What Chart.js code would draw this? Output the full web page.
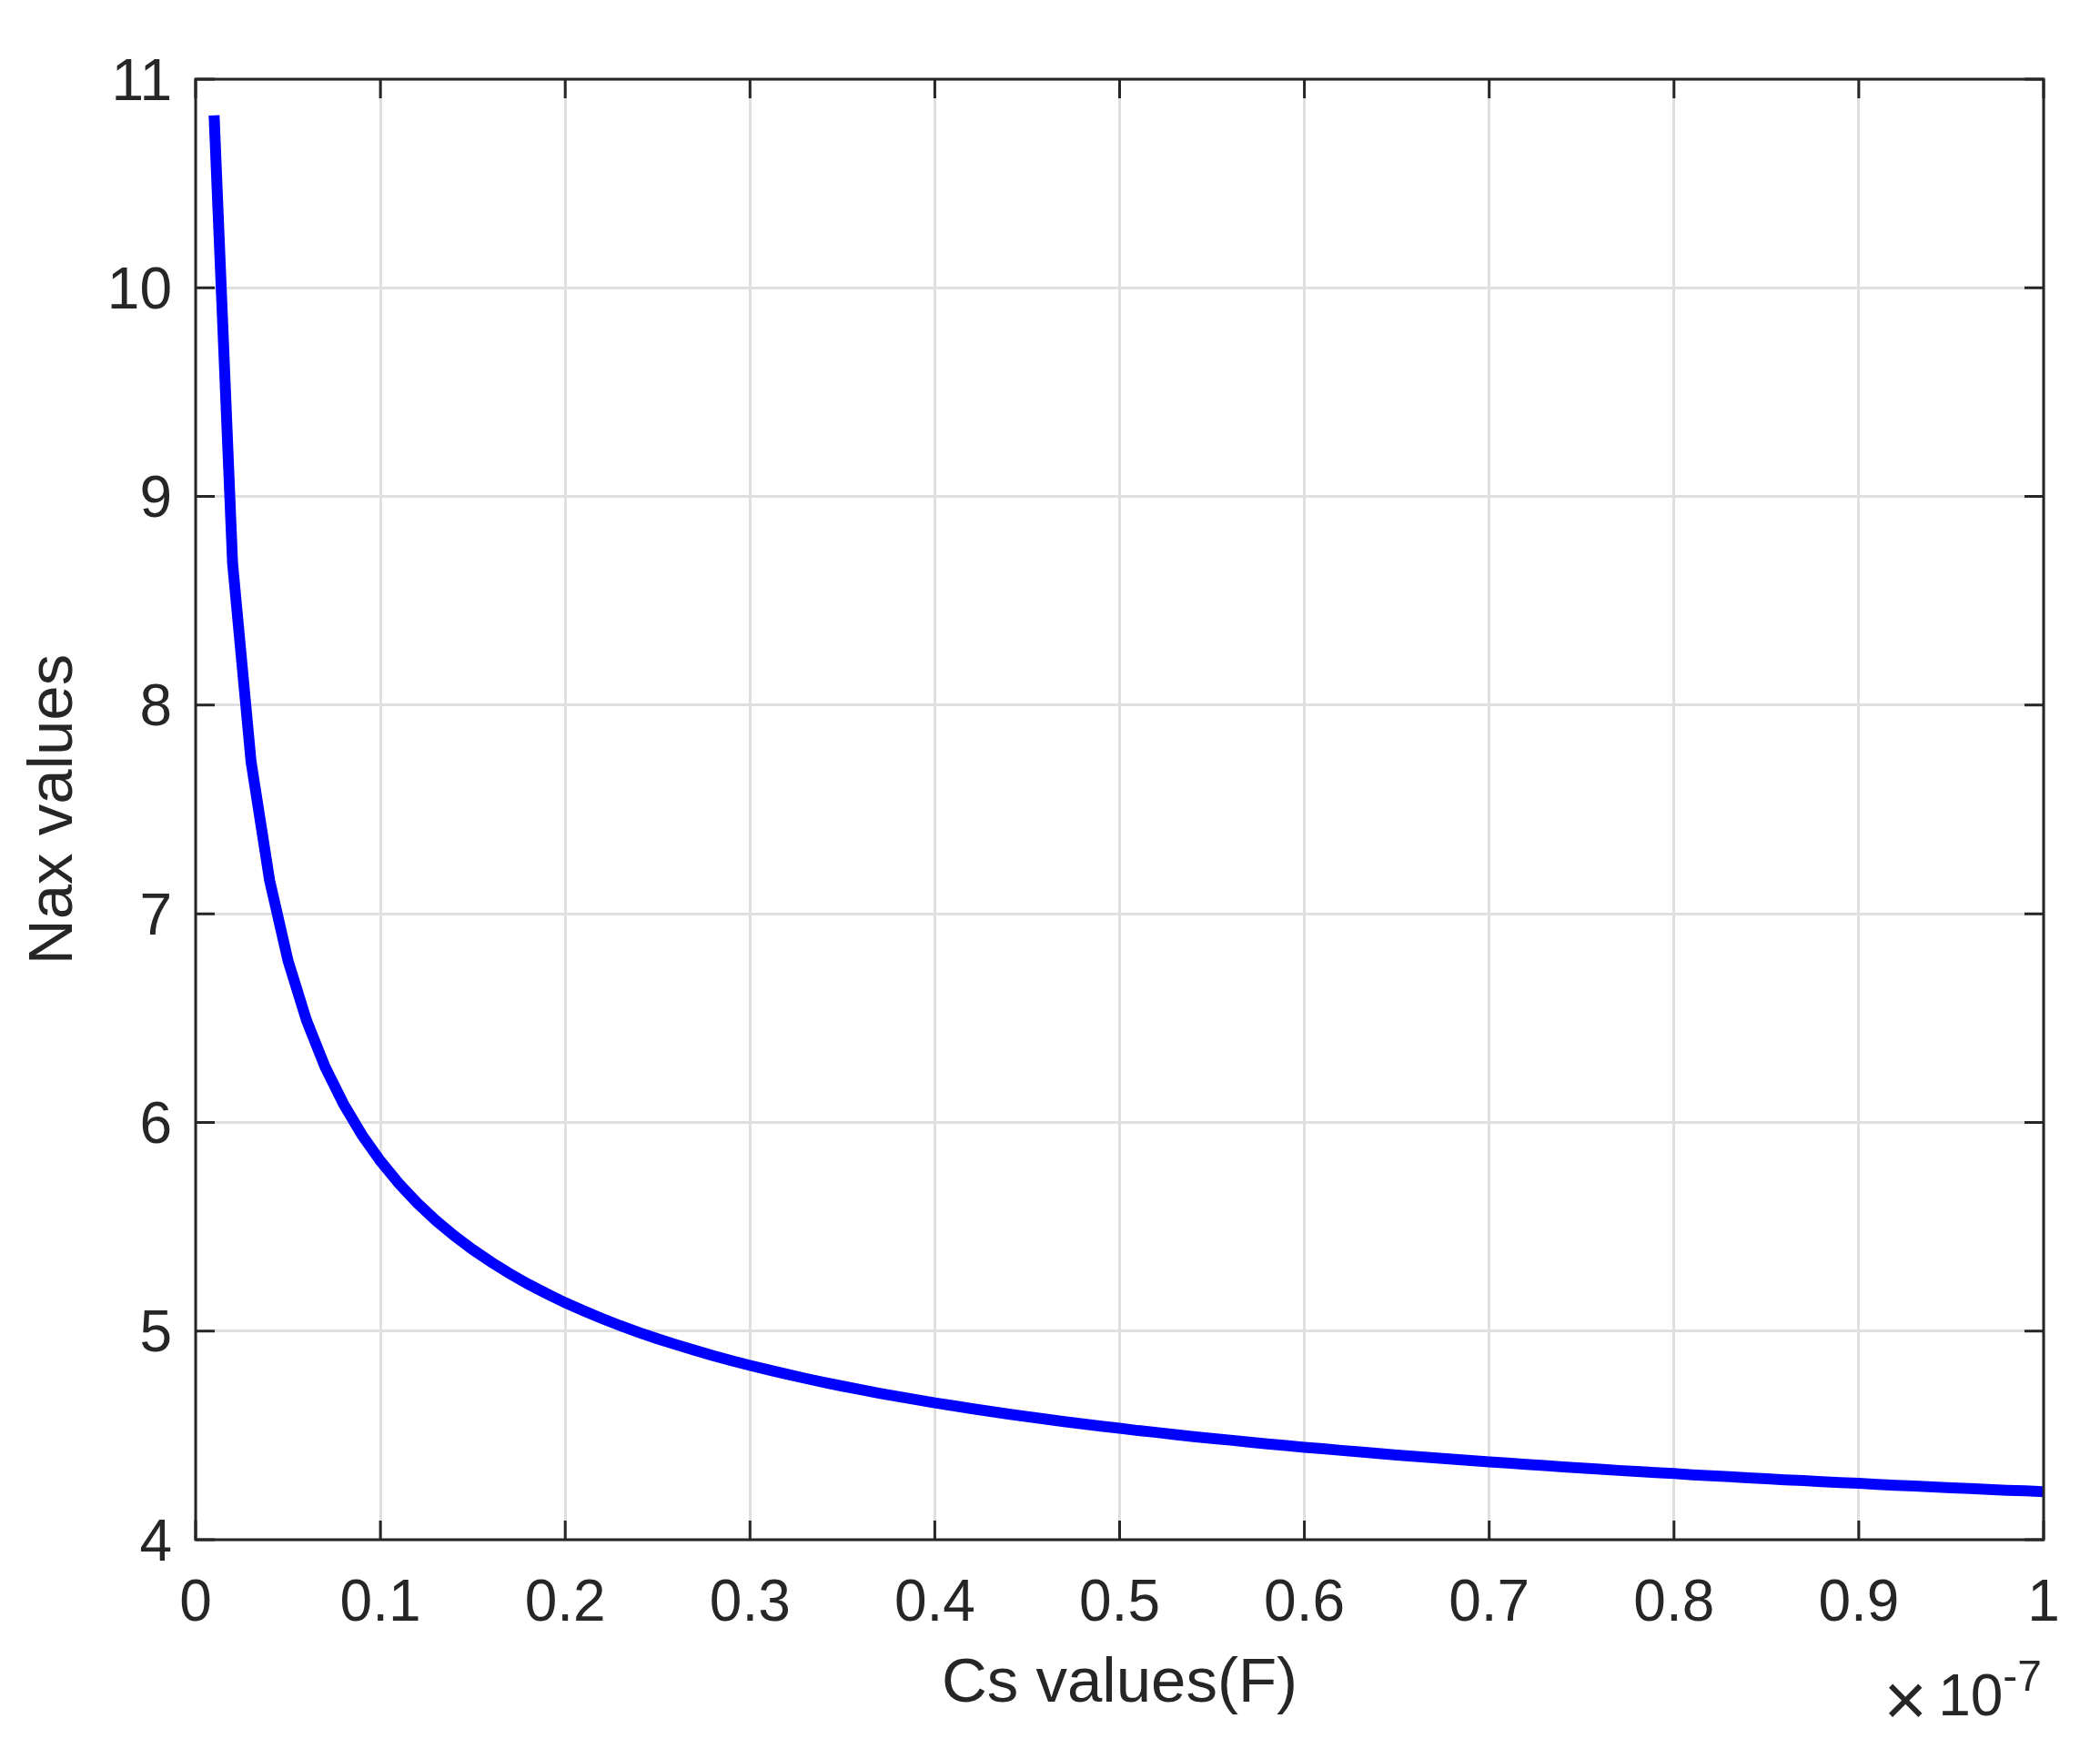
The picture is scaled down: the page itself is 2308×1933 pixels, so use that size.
<!DOCTYPE html>
<html>
<head>
<meta charset="utf-8">
<script src="https://cdn.jsdelivr.net/npm/chart.js@4.4.1/dist/chart.umd.min.js"></script>
<style>
  html, body { margin: 0; padding: 0; background: #fff; }
  canvas { display: block; }
</style>
</head>
<body>
<canvas id="chart" width="2308" height="1933"></canvas>
<script>
// Cs values, in units of 1e-7 F
const csValues = [
  0.01, 0.02, 0.03, 0.04, 0.05, 0.06, 0.07, 0.08, 0.09, 0.10,
  0.11, 0.12, 0.13, 0.14, 0.15, 0.16, 0.17, 0.18, 0.19, 0.20,
  0.21, 0.22, 0.23, 0.24, 0.25, 0.26, 0.27, 0.28, 0.29, 0.30,
  0.31, 0.32, 0.33, 0.34, 0.35, 0.36, 0.37, 0.38, 0.39, 0.40,
  0.41, 0.42, 0.43, 0.44, 0.45, 0.46, 0.47, 0.48, 0.49, 0.50,
  0.51, 0.52, 0.53, 0.54, 0.55, 0.56, 0.57, 0.58, 0.59, 0.60,
  0.61, 0.62, 0.63, 0.64, 0.65, 0.66, 0.67, 0.68, 0.69, 0.70,
  0.71, 0.72, 0.73, 0.74, 0.75, 0.76, 0.77, 0.78, 0.79, 0.80,
  0.81, 0.82, 0.83, 0.84, 0.85, 0.86, 0.87, 0.88, 0.89, 0.90,
  0.91, 0.92, 0.93, 0.94, 0.95, 0.96, 0.97, 0.98, 0.99, 1.00
];
const naxValues = [
  10.827, 8.680, 7.729, 7.162, 6.775, 6.489, 6.267, 6.089, 5.940, 5.815,
  5.707, 5.613, 5.530, 5.456, 5.390, 5.330, 5.275, 5.225, 5.179, 5.136,
  5.097, 5.060, 5.025, 4.993, 4.963, 4.935, 4.908, 4.882, 4.858, 4.835,
  4.814, 4.793, 4.773, 4.754, 4.736, 4.719, 4.702, 4.686, 4.671, 4.656,
  4.642, 4.628, 4.615, 4.602, 4.590, 4.578, 4.566, 4.555, 4.544, 4.534,
  4.523, 4.514, 4.504, 4.494, 4.485, 4.477, 4.468, 4.459, 4.451, 4.443,
  4.436, 4.428, 4.421, 4.413, 4.406, 4.399, 4.393, 4.386, 4.379, 4.373,
  4.367, 4.361, 4.355, 4.349, 4.343, 4.338, 4.332, 4.327, 4.322, 4.317,
  4.311, 4.306, 4.302, 4.297, 4.292, 4.287, 4.283, 4.278, 4.274, 4.270,
  4.265, 4.261, 4.257, 4.253, 4.249, 4.245, 4.241, 4.237, 4.234, 4.230
];
const xTicks = [0, 0.1, 0.2, 0.3, 0.4, 0.5, 0.6, 0.7, 0.8, 0.9, 1];
const xTickLabels = ['0', '0.1', '0.2', '0.3', '0.4', '0.5', '0.6', '0.7', '0.8', '0.9', '1'];
const yTicks = [4, 5, 6, 7, 8, 9, 10, 11];
const yTickLabels = ['4', '5', '6', '7', '8', '9', '10', '11'];

const ink = '#262626';
const fontFamily = "'Liberation Sans', Arial, Helvetica, sans-serif";
Chart.defaults.font.family = fontFamily;
Chart.defaults.color = ink;

// box, inward ticks on all four sides, and the x10^-7 multiplier
const matlabBox = {
  id: 'matlabBox',
  afterDraw(chart) {
    const { ctx, chartArea: a, scales: { x, y } } = chart;
    const tl = 21;
    ctx.save();
    ctx.strokeStyle = ink;
    ctx.lineWidth = 3;
    ctx.beginPath();
    xTicks.forEach(v => {
      const px = x.getPixelForValue(v);
      ctx.moveTo(px, a.bottom); ctx.lineTo(px, a.bottom - tl);
      ctx.moveTo(px, a.top); ctx.lineTo(px, a.top + tl);
    });
    yTicks.forEach(v => {
      const py = y.getPixelForValue(v);
      ctx.moveTo(a.left, py); ctx.lineTo(a.left + tl, py);
      ctx.moveTo(a.right, py); ctx.lineTo(a.right - tl, py);
    });
    ctx.stroke();
    ctx.strokeRect(a.left, a.top, a.right - a.left, a.bottom - a.top);

    ctx.fillStyle = ink;
    ctx.textBaseline = 'alphabetic';
    ctx.textAlign = 'right';
    let px = a.right - 2;
    ctx.font = '48px ' + fontFamily;
    ctx.fillText('-7', px, 1858);
    px -= ctx.measureText('-7').width;
    ctx.font = '64px ' + fontFamily;
    ctx.fillText('10', px, 1885);
    px -= ctx.measureText('10').width + 12;
    ctx.font = '82px ' + fontFamily;
    ctx.fillText('\u00d7', px, 1896);
    ctx.restore();
  }
};

new Chart(document.getElementById('chart'), {
  type: 'line',
  data: {
    datasets: [{
      data: csValues.map((c, i) => ({ x: c, y: naxValues[i] })),
      borderColor: '#0000ff',
      borderWidth: 12,
      borderCapStyle: 'butt',
      borderJoinStyle: 'miter',
      pointRadius: 0,
      tension: 0,
      fill: false
    }]
  },
  options: {
    responsive: false,
    animation: false,
    devicePixelRatio: 1,
    layout: { padding: { top: 87, right: 62, left: 0, bottom: 0 } },
    plugins: { legend: { display: false }, tooltip: { enabled: false } },
    scales: {
      x: {
        type: 'linear',
        min: 0,
        max: 1,
        afterBuildTicks: s => { s.ticks = xTicks.map(v => ({ value: v })); },
        afterFit: s => { s.height = 241; },
        grid: { color: '#dfdfdf', lineWidth: 3, drawTicks: false },
        border: { display: false },
        ticks: {
          font: { size: 64 },
          padding: 33,
          maxRotation: 0,
          autoSkip: false,
          callback: v => xTickLabels[xTicks.indexOf(v)]
        },
        title: {
          display: true,
          text: 'Cs values(F)',
          font: { size: 69 },
          padding: { top: 0, bottom: 41 }
        }
      },
      y: {
        type: 'linear',
        min: 4,
        max: 11,
        afterBuildTicks: s => { s.ticks = yTicks.map(v => ({ value: v })); },
        afterFit: s => { s.width = 215; },
        grid: { color: '#dfdfdf', lineWidth: 3, drawTicks: false },
        border: { display: false },
        ticks: {
          // blank first line with a short line height nudges labels ~5px down
          font: { size: 64, lineHeight: '10px' },
          padding: 26,
          autoSkip: false,
          callback: v => ['', yTickLabels[yTicks.indexOf(v)]]
        },
        title: {
          display: true,
          text: 'Nax values',
          font: { size: 69 },
          padding: { top: 19, bottom: 0 }
        }
      }
    }
  },
  plugins: [matlabBox]
});
</script>
</body>
</html>
